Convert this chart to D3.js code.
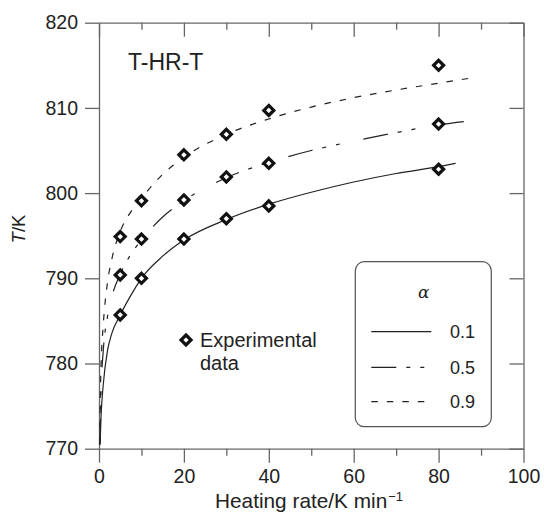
<!DOCTYPE html>
<html>
<head>
<meta charset="utf-8">
<script src="https://cdn.jsdelivr.net/npm/d3@7"></script>
<style>
  body { margin: 0; background: #fff; }
  svg text { font-family: "Liberation Sans", Arial, sans-serif; fill: #222; }
</style>
</head>
<body>
<svg id="chart" width="544" height="520"></svg>
<script>
// measured points (heating rate, K/min) and peak temperatures
var exp_x = [5, 10, 20, 30, 40, 80];
var exp_a01 = [785.7, 790.0, 794.6, 797.0, 798.5, 802.8];
var exp_a05 = [790.4, 794.6, 799.2, 801.9, 803.5, 808.1];
var exp_a09 = [794.9, 799.1, 804.5, 806.9, 809.7, 815.0];

// fitted curves
var fit_x01 = [0.25, 0.5, 1, 2, 3, 5, 7.5, 10, 15, 20, 30, 40, 50, 60, 70, 80, 84];
var fit_a01 = [770.5, 774, 777.5, 781.5, 783.5, 785.7, 788, 790, 792.6, 794.5, 796.9, 798.7, 800.1, 801.3, 802.3, 803.1, 803.5];
var fit_x05 = [0.2, 0.5, 1, 2, 3, 5, 7.5, 10, 15, 20, 30, 40, 50, 60, 70, 80, 88];
var fit_a05 = [770.5, 777, 781.5, 785.5, 787.8, 790.5, 792.8, 794.5, 797.2, 799.1, 801.8, 803.6, 805.0, 806.1, 807.1, 808.0, 808.5];
var fit_x09 = [0.15, 0.3, 0.5, 1, 2, 3, 5, 7.5, 10, 15, 20, 30, 40, 50, 60, 70, 80, 87.6];
var fit_a09 = [770.5, 776, 780, 784.5, 789.5, 792.2, 795.5, 797.8, 799.4, 802.2, 804.2, 806.9, 808.7, 810.1, 811.2, 812.1, 812.9, 813.5];

var x_ticks = [0, 10, 20, 30, 40, 50, 60, 70, 80, 90, 100];
var y_ticks = [770, 780, 790, 800, 810, 820];
var legend_labels = ['0.1', '0.5', '0.9'];

var LEFT = 99, RIGHT = 523.5, TOP = 22.7, BOTTOM = 448.7;
var AXIS_COLOR = '#666';
var DASH = ['none', '25,10,4,10,4,24', '6.5,9'];

var svg = d3.select('#chart');

var x = d3.scaleLinear().domain([0, 100]).range([LEFT, RIGHT]);
var y = d3.scaleLinear().domain([770, 820]).range([BOTTOM, TOP]);

function style_axis(g, show_labels)
{
	g.select('.domain').attr('stroke', AXIS_COLOR).attr('stroke-width', 1.3);
	g.selectAll('.tick line').attr('stroke', AXIS_COLOR).attr('stroke-width', 1.3);
	g.selectAll('.tick text').style('font-size', '19.5px').attr('fill', '#222');
	if(!show_labels) g.selectAll('.tick text').remove();
}

function minor_ticks(g, size)
{
	g.selectAll('.tick').each(function(d) {
		if(d % 20 != 0) d3.select(this).select('line').attr(size[0], size[1]);
	});
}

// bottom
var gb = svg.append('g')
	.attr('transform', 'translate(0,' + BOTTOM + ')')
	.call(d3.axisBottom(x).tickValues(x_ticks).tickSize(14).tickSizeOuter(0).tickPadding(6)
		.tickFormat(function(d) { return d % 20 == 0 ? d : ''; }));
style_axis(gb, true);
minor_ticks(gb, ['y2', 7]);

// top
var gt = svg.append('g')
	.attr('transform', 'translate(0,' + TOP + ')')
	.call(d3.axisTop(x).tickValues(x_ticks).tickSize(-14).tickSizeOuter(0));
style_axis(gt, false);
minor_ticks(gt, ['y2', 7]);

// left
var gl = svg.append('g')
	.attr('transform', 'translate(' + LEFT + ',0)')
	.call(d3.axisLeft(y).tickValues(y_ticks).tickSize(14).tickSizeOuter(0).tickPadding(7));
style_axis(gl, true);

// right
var gr = svg.append('g')
	.attr('transform', 'translate(' + RIGHT + ',0)')
	.call(d3.axisRight(y).tickValues(y_ticks).tickSize(-14).tickSizeOuter(0));
style_axis(gr, false);

// fitted lines
var line = d3.line()
	.x(function(d) { return x(d[0]); })
	.y(function(d) { return y(d[1]); })
	.curve(d3.curveMonotoneX);

var fits = [d3.zip(fit_x01, fit_a01), d3.zip(fit_x05, fit_a05), d3.zip(fit_x09, fit_a09)];
svg.append('g').selectAll('path')
	.data(fits)
	.join('path')
	.attr('d', line)
	.attr('fill', 'none')
	.attr('stroke', '#222')
	.attr('stroke-width', 1.2)
	.attr('stroke-dasharray', function(d, i) { return DASH[i]; });

// experimental diamonds
var diamond = 'M0,-5L5,0L0,5L-5,0Z';
var pts = [];
[exp_a01, exp_a05, exp_a09].forEach(function(s) {
	s.forEach(function(v, i) { pts.push([exp_x[i], v]); });
});
svg.append('g').selectAll('path')
	.data(pts)
	.join('path')
	.attr('d', diamond)
	.attr('transform', function(d) { return 'translate(' + x(d[0]) + ',' + y(d[1]) + ')'; })
	.attr('fill', '#fff')
	.attr('stroke', '#111')
	.attr('stroke-width', 3.2);

// labels
svg.append('text').attr('x', 128).attr('y', 70).style('font-size', '23px').text('T-HR-T');

var xt = svg.append('text').attr('x', 215).attr('y', 507.7).style('font-size', '20.8px');
xt.append('tspan').text('Heating rate/K min');
xt.append('tspan').attr('dx', 1).attr('dy', -7).style('font-size', '13px').text('\u22121');

var yt = svg.append('text')
	.attr('transform', 'translate(25,229) rotate(-90)')
	.attr('text-anchor', 'middle')
	.style('font-size', '18.5px');
yt.append('tspan').style('font-style', 'italic').text('T');
yt.append('tspan').text('/K');

// experimental data key
svg.append('path')
	.attr('d', diamond)
	.attr('transform', 'translate(186,340)')
	.attr('fill', '#fff')
	.attr('stroke', '#111')
	.attr('stroke-width', 3.2);
svg.append('text').attr('x', 200).attr('y', 347.3).style('font-size', '20px').text('Experimental');
svg.append('text').attr('x', 200).attr('y', 370).style('font-size', '20px').text('data');

// legend box
var legend = svg.append('g');
legend.append('rect')
	.attr('x', 355.3).attr('y', 261.7)
	.attr('width', 136).attr('height', 165)
	.attr('rx', 9)
	.attr('fill', '#fff')
	.attr('stroke', '#555')
	.attr('stroke-width', 1.2);
legend.append('text')
	.attr('x', 423.7).attr('y', 298)
	.attr('text-anchor', 'middle')
	.style('font-family', '"DejaVu Serif", serif')
	.style('font-style', 'italic')
	.style('font-size', '17px')
	.text('\u03b1');

var row_y = [331.7, 367.3, 401.7];
legend_labels.forEach(function(lab, i) {
	legend.append('line')
		.attr('x1', 371.3).attr('x2', 431.3)
		.attr('y1', row_y[i]).attr('y2', row_y[i])
		.attr('stroke', '#222')
		.attr('stroke-width', 1.2)
		.attr('stroke-dasharray', DASH[i]);
	legend.append('text')
		.attr('x', 450).attr('y', row_y[i] + 6.5)
		.style('font-size', '18px')
		.text(lab);
});
</script>
</body>
</html>
